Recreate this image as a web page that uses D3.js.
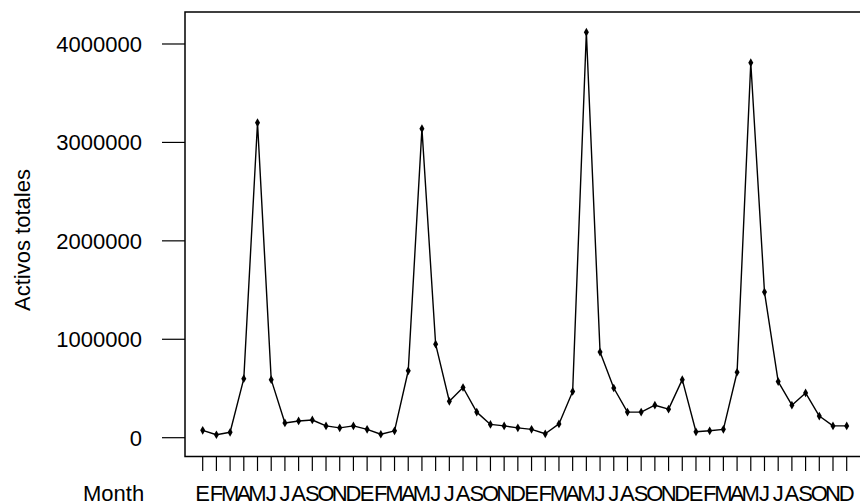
<!DOCTYPE html>
<html><head><meta charset="utf-8">
<script src="https://cdn.jsdelivr.net/npm/d3@7"></script>
<style>body{margin:0;background:#fff}svg{display:block}text{font-family:"Liberation Sans",Arial,sans-serif;fill:#000}</style>
</head><body><svg id="c" width="860" height="504"></svg>
<script>
const months = ["E","F","M","A","M","J","J","A","S","O","N","D","E","F","M","A","M","J","J","A","S","O","N","D","E","F","M","A","M","J","J","A","S","O","N","D","E","F","M","A","M","J","J","A","S","O","N","D"];
const values = [75000,30000,55000,600000,3200000,590000,150000,170000,180000,120000,100000,120000,
  85000,35000,70000,680000,3140000,950000,370000,510000,260000,135000,120000,100000,
  85000,40000,140000,470000,4120000,870000,505000,260000,260000,330000,290000,590000,
  60000,70000,85000,665000,3810000,1480000,570000,330000,455000,220000,120000,120000];
const yTicks = [0,1000000,2000000,3000000,4000000];
const yLabel = "Activos totales";
const xLabel = "Month";

const svg = d3.select("#c");
const x = d3.scaleLinear().domain([1,48]).range([202.7,846.7]);
const y = d3.scaleLinear().domain([-191000,4325000]).range([456.5,12]);
const idx = d3.range(1, values.length+1);

// box (right side beyond the picture)
svg.append("path").attr("d","M862,12H185V456.5H862").attr("fill","none").attr("stroke","#000").attr("stroke-width",1.5);

// y axis ticks + labels
const yAxis = svg.append("g");
yTicks.forEach(t=>{
  yAxis.append("line").attr("x1",162).attr("x2",185).attr("y1",y(t)).attr("y2",y(t)).attr("stroke","#000").attr("stroke-width",1.2);
  yAxis.append("text").attr("x",142).attr("y",y(t)).attr("dy","0.36em").attr("text-anchor","end").attr("font-size",22).text(t);
});

// x ticks + labels
const xAxis = svg.append("g");
idx.forEach((i,k)=>{
  xAxis.append("line").attr("x1",x(i)).attr("x2",x(i)).attr("y1",457).attr("y2",471).attr("stroke","#000").attr("stroke-width",1.2);
  xAxis.append("text").attr("x",x(i)).attr("y",500.5).attr("text-anchor","middle").attr("font-size",22).text(months[k]);
});

svg.append("text").attr("x",83).attr("y",500.5).attr("font-size",22).text(xLabel);
svg.append("text").attr("transform","translate(30,240) rotate(-90)").attr("text-anchor","middle").attr("font-size",22).text(yLabel);

// line
const line = d3.line().x((d,k)=>x(k+1)).y(d=>y(d));
svg.append("path").datum(values).attr("d",line).attr("fill","none").attr("stroke","#000").attr("stroke-width",1.4).attr("stroke-linejoin","round");

svg.selectAll(".pt").data(values).join("path").attr("class","pt")
  .attr("transform",(d,k)=>`translate(${x(k+1)},${y(d)})`)
  .attr("d",d3.symbol(d3.symbolDiamond,22)).attr("fill","#000");
</script></body></html>
